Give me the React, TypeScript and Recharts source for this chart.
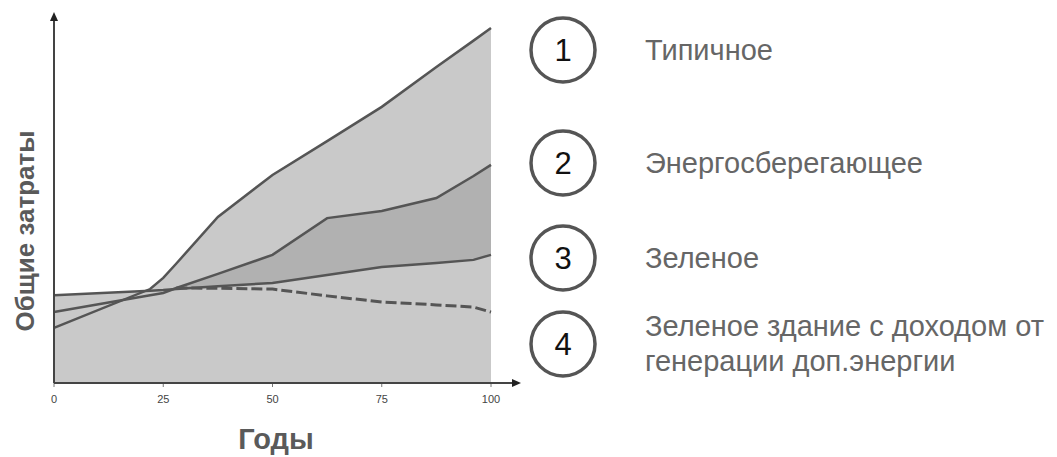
import { ComposedChart, Area, Line, XAxis, YAxis } from "recharts";

// years along the x axis, where the lines have their corners
const YEARS = [0, 22, 25, 28, 37.5, 50, 62.5, 75, 87.5, 96, 100];

// total cost per scenario (relative units)
const TYPICAL = [15.3, 26.1, 29.2, 33.2, 46.1, 57.8, 67.2, 76.7, 87.8, 95.1, 98.6];
const ENERGY_SAVING = [19.7, 24.4, 25.0, 26.4, 30.3, 35.6, 45.8, 47.8, 51.4, 57.5, 60.6];
const GREEN = [24.4, 25.6, 25.8, 26.1, 26.9, 27.8, 30.0, 32.2, 33.3, 34.2, 35.6];
const GREEN_GENERATION = [null, null, null, 26.4, 26.3, 26.1, 24.2, 22.5, 21.7, 21.1, 19.7];

const X_TICKS = [0, 25, 50, 75, 100];

const LEGEND_LABELS = [
  ["Типичное"],
  ["Энергосберегающее"],
  ["Зеленое"],
  ["Зеленое здание с доходом от", "генерации доп.энергии"],
];
const LEGEND_Y = [50, 163, 258, 344];

const rows = YEARS.map((year, i) => ({
  year,
  typical: TYPICAL[i],
  energy: ENERGY_SAVING[i],
  green: GREEN[i],
  greenGen: GREEN_GENERATION[i],
  band: ENERGY_SAVING[i] >= GREEN[i] ? [GREEN[i], ENERGY_SAVING[i]] : null,
}));

const CHART_W = 540;
const CHART_H = 420;
const MARGIN = { top: 23, right: 49, bottom: 7, left: 54 };
const X_AXIS_H = 30;
const PLOT_LEFT = MARGIN.left;
const PLOT_BOTTOM = CHART_H - MARGIN.bottom - X_AXIS_H;

const LIGHT = "#c9c9c9";
const DARK = "#b1b1b1";
const INK = "#555555";

export default function App() {
  return (
    <div
      style={{
        position: "fixed",
        left: 0,
        top: 0,
        width: 1057,
        height: 457,
        background: "#fff",
        fontFamily: "'Liberation Sans', Arial, sans-serif",
      }}
    >
      <ComposedChart width={CHART_W} height={CHART_H} data={rows} margin={MARGIN}>
        <XAxis
          dataKey="year"
          type="number"
          domain={[0, 100]}
          ticks={X_TICKS}
          axisLine={false}
          tickLine={{ stroke: "#777" }}
          tickSize={4}
          tickMargin={8}
          height={X_AXIS_H}
          tick={{ fontSize: 11, fill: "#444", fontFamily: "'Liberation Sans', Arial" }}
        />
        <YAxis hide domain={[0, 100]} />
        <Area dataKey="typical" stroke="none" fill={LIGHT} fillOpacity={1} isAnimationActive={false} />
        <Area dataKey="energy" stroke="none" fill={LIGHT} fillOpacity={1} isAnimationActive={false} />
        <Area dataKey="green" stroke="none" fill={LIGHT} fillOpacity={1} isAnimationActive={false} />
        <Area dataKey="band" stroke="none" fill={DARK} fillOpacity={1} isAnimationActive={false} />
        <Line dataKey="typical" stroke={INK} strokeWidth={2.5} dot={false} isAnimationActive={false} />
        <Line dataKey="energy" stroke={INK} strokeWidth={2.5} dot={false} isAnimationActive={false} />
        <Line dataKey="green" stroke={INK} strokeWidth={2.5} dot={false} isAnimationActive={false} />
        <Line
          dataKey="greenGen"
          stroke={INK}
          strokeWidth={3}
          strokeDasharray="11 4"
          dot={false}
          isAnimationActive={false}
        />
      </ComposedChart>

      {/* axes with arrows, axis titles and the numbered legend */}
      <svg
        width={1057}
        height={457}
        style={{ position: "absolute", left: 0, top: 0, pointerEvents: "none" }}
      >
        <line x1={PLOT_LEFT} y1={PLOT_BOTTOM} x2={PLOT_LEFT} y2={20} stroke="#444" strokeWidth={2} />
        <polygon points={`${PLOT_LEFT - 4},21 ${PLOT_LEFT + 4},21 ${PLOT_LEFT},12`} fill="#222" />
        <line x1={PLOT_LEFT} y1={PLOT_BOTTOM} x2={514} y2={PLOT_BOTTOM} stroke="#444" strokeWidth={2} />
        <polygon
          points={`512,${PLOT_BOTTOM - 4} 512,${PLOT_BOTTOM + 4} 521,${PLOT_BOTTOM}`}
          fill="#222"
        />

        <text
          x={0}
          y={0}
          transform="translate(34 231) rotate(-90)"
          textAnchor="middle"
          fontSize={26}
          fontWeight="bold"
          fill="#5a5a5a"
        >
          Общие затраты
        </text>
        <text x={276} y={449} textAnchor="middle" fontSize={29} fontWeight="bold" fill="#5a5a5a">
          Годы
        </text>

        {LEGEND_LABELS.map((lines, i) => (
          <g key={i}>
            <circle cx={563} cy={LEGEND_Y[i]} r={32} fill="#fff" stroke={INK} strokeWidth={3.5} />
            <text
              x={563}
              y={LEGEND_Y[i] + 11}
              textAnchor="middle"
              fontSize={31}
              fill="#111"
            >
              {i + 1}
            </text>
            {lines.map((t, j) => (
              <text
                key={j}
                x={645}
                y={LEGEND_Y[i] + 10 - (lines.length - 1) * 18 + j * 35}
                fontSize={29}
                fill="#666"
              >
                {t}
              </text>
            ))}
          </g>
        ))}
      </svg>
    </div>
  );
}
